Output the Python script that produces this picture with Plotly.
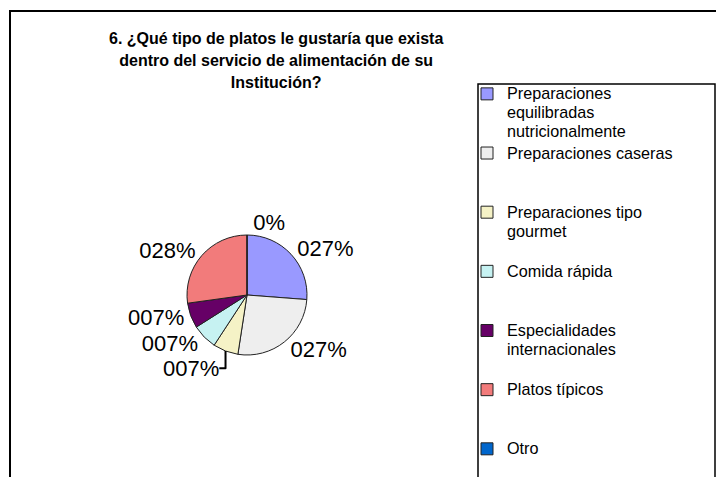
import plotly.graph_objects as go

# ---- data ----
categories = [
    "Preparaciones equilibradas nutricionalmente",
    "Preparaciones caseras",
    "Preparaciones tipo gourmet",
    "Comida rápida",
    "Especialidades internacionales",
    "Platos típicos",
    "Otro",
]
# legend lines as wrapped in the reference (3 line slots per entry)
legend_lines = [
    ["Preparaciones", "equilibradas", "nutricionalmente"],
    ["Preparaciones caseras", " ", " "],
    ["Preparaciones tipo", "gourmet", " "],
    ["Comida rápida", " ", " "],
    ["Especialidades", "internacionales", " "],
    ["Platos típicos", " ", " "],
    ["Otro"],
]
values = [27, 27, 7, 7, 7, 28, 0]
value_labels = ["027%", "027%", "007%", "007%", "007%", "028%", "0%"]
colors = ["#9999FF", "#EEEEEE", "#F5F2C6", "#C6F2F2", "#660066", "#F27B7B", "#0066CC"]

title_lines = [
    "6. ¿Qué tipo de platos le gustaría que exista",
    "dentro del servicio de alimentación de su",
    "Institución?",
]

W, H = 716, 477
FONT = "Arial, Liberation Sans, sans-serif"


def big(lines, size):
    return "<br>".join(f"<span style='font-size:{size}px'>{t}</span>" for t in lines)


legend_labels = [big(ls, 16.2) for ls in legend_lines]

fig = go.Figure()
fig.add_trace(go.Pie(
    labels=legend_labels,
    values=values,
    text=value_labels,
    textinfo="text",
    textposition="outside",
    textfont=dict(size=22, color="black", family=FONT),
    sort=False,
    direction="clockwise",
    rotation=0,
    marker=dict(colors=colors, line=dict(color="#222222", width=1)),
    domain=dict(x=[187 / W, 307 / W], y=[1 - 355 / H, 1 - 235 / H]),
    hovertext=categories,
    hoverinfo="text+percent",
    showlegend=True,
))

fig.update_layout(
    width=W, height=H, autosize=False,
    margin=dict(l=0, r=0, t=0, b=0),
    paper_bgcolor="white", plot_bgcolor="white",
    font=dict(family=FONT, color="black"),
    legend=dict(
        x=467 / W, y=1 - 78 / H, xanchor="left", yanchor="top",
        font=dict(size=14.4, family=FONT, color="black"),
        valign="top", borderwidth=0, bgcolor="rgba(0,0,0,0)",
        itemwidth=30, tracegroupgap=0,
    ),
    shapes=[
        dict(type="rect", xref="paper", yref="paper",
             x0=10 / W, x1=1.02, y0=-0.02, y1=1 - 11 / H,
             line=dict(color="black", width=2), fillcolor="rgba(0,0,0,0)"),
        dict(type="rect", xref="paper", yref="paper",
             x0=478 / W, x1=715 / W, y0=-0.02, y1=1 - 84 / H,
             line=dict(color="black", width=1.5), fillcolor="rgba(0,0,0,0)"),
    ],
    annotations=[
        dict(text="<b>" + big(title_lines, 16) + "</b>", xref="paper", yref="paper",
             x=276 / W, y=1 - 28 / H, xanchor="center", yanchor="top",
             showarrow=False, align="center",
             font=dict(size=17, family=FONT, color="black")),
    ],
)

fig.write_html("out.html", config={"displayModeBar": False},
               post_script="document.body.style.margin='0';")
